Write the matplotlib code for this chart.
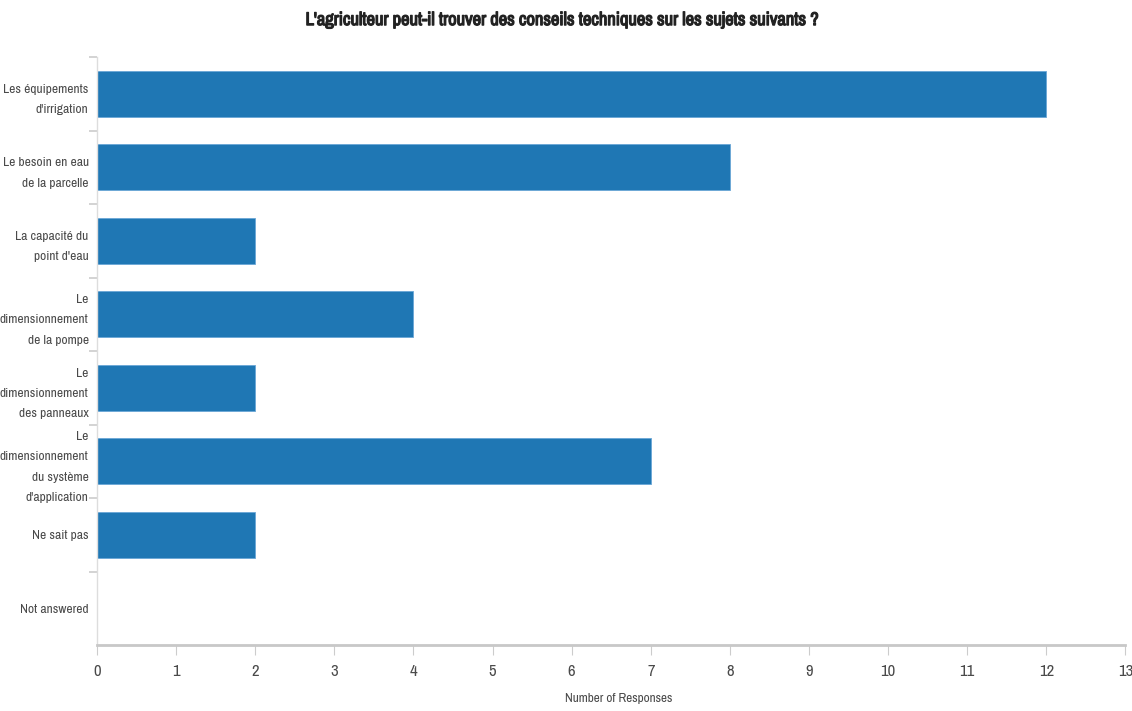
import numpy as np
import matplotlib.pyplot as plt
import matplotlib.patheffects as pe
from matplotlib import font_manager

# data
categories = ["Les équipements\nd'irrigation",
              "Le besoin en eau\nde la parcelle",
              "La capacité du\npoint d'eau",
              "Le\ndimensionnement\nde la pompe",
              "Le\ndimensionnement\ndes panneaux",
              "Le\ndimensionnement\ndu système\nd'application",
              "Ne sait pas",
              "Not answered"]
responses = [12, 8, 2, 4, 2, 7, 2, 0]
xticks = list(range(0, 14))

# the original uses a narrow font; take one if the system has it
narrow = None
for f in font_manager.fontManager.ttflist:
    if 'Narrow' in f.name or 'Condensed' in f.name:
        narrow = f.name
        break
    if f.stretch in ('condensed', 'semi-condensed') and 'Sans' in f.name:
        narrow = f.name
if narrow:
    plt.rcParams['font.family'] = [narrow, 'DejaVu Sans']
    plt.rcParams['font.stretch'] = 'condensed'
    fs = 9.7
else:
    plt.rcParams['font.family'] = ['Liberation Sans', 'DejaVu Sans']
    fs = 8.5

grey = '#4a4a4a'

fig = plt.figure(figsize=(11.32, 7.11), dpi=100)
ax = fig.add_axes([0.0857, 0.0928, 0.9085, 0.827])

y = np.arange(len(categories))
ax.barh(y, responses, height=0.62, color='#1f77b4', edgecolor='#6aa6d6', linewidth=0.6)

ax.set_xlim(0, 13)
ax.set_ylim(len(categories) - 0.5, -0.5)

ax.set_xticks(xticks)
ax.set_xticklabels([str(t) for t in xticks], fontsize=12, color=grey)
ax.tick_params(axis='x', length=7, width=0.8, color='#cccccc', pad=7)

ax.set_yticks(y)
ax.set_yticklabels(categories, fontsize=fs, color=grey, linespacing=2.05)
ax.tick_params(axis='y', which='major', length=0, pad=6)
ax.set_yticks(np.arange(-0.5, len(categories) - 1, 1), minor=True)
ax.tick_params(axis='y', which='minor', length=6, width=1.2, color='#cccccc')

for s in ['top', 'right']:
    ax.spines[s].set_visible(False)
ax.spines['left'].set_color('#dddddd')
ax.spines['left'].set_linewidth(1)
ax.spines['bottom'].set_color('#c8c8c8')
ax.spines['bottom'].set_linewidth(2)

ax.set_xlabel("Number of Responses", fontsize=9.5, color=grey, labelpad=10, x=0.507)
title = fig.suptitle("L'agriculteur peut-il trouver des conseils techniques sur les sujets suivants ?",
                     fontsize=13.3, fontweight='bold', color='#222222', x=0.497, y=0.983)
# fake a bold face in case the narrow family has none
title.set_path_effects([pe.withStroke(linewidth=0.9, foreground='#222222')])

fig.savefig("out.png", dpi=100)
